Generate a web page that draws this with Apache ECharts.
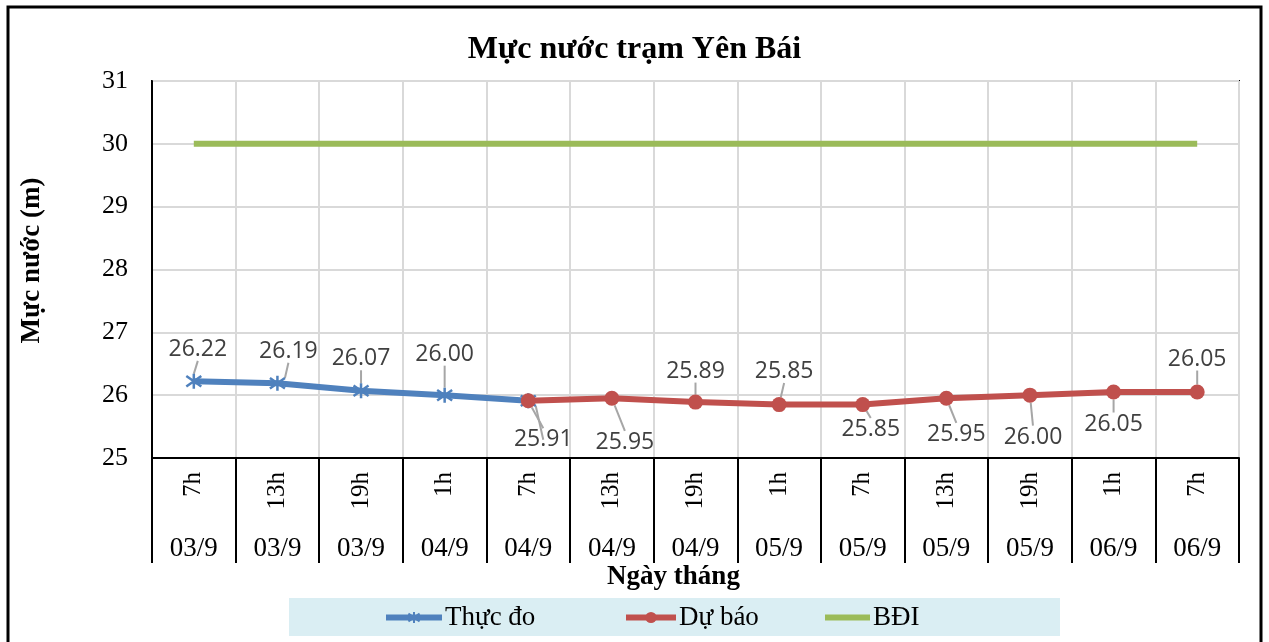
<!DOCTYPE html>
<html><head><meta charset="utf-8">
<script src="https://cdn.jsdelivr.net/npm/echarts@6/dist/echarts.min.js"></script>
<style>html,body{margin:0;padding:0;background:#fff}#c{width:1269px;height:642px}</style>
</head><body><div id="c"></div>
<script>
// ---- data ----
const hours = ['7h','13h','19h','1h','7h','13h','19h','1h','7h','13h','19h','1h','7h'];
const dates = ['03/9','03/9','03/9','04/9','04/9','04/9','04/9','05/9','05/9','05/9','05/9','06/9','06/9'];
const thucDo = [26.22, 26.19, 26.07, 26.00, 25.91, null, null, null, null, null, null, null, null];
const duBao  = [null, null, null, null, 25.91, 25.95, 25.89, 25.85, 25.85, 25.95, 26.00, 26.05, 26.05];
const bdi    = [30, 30, 30, 30, 30, 30, 30, 30, 30, 30, 30, 30, 30];
const yMin = 25, yMax = 31, yStep = 1;

// ---- layout of data labels (pixel shift from point) ----
const labelShift = [[4,-32],[11,-32],[0,-32],[0,-41],[15,39],[13,44],[0,-31],[5,-33],[8,25],[10,36],[3,42],[0,32],[0,-33]];

const SERIF = '"Liberation Serif","Times New Roman",serif';
const SANS = '"Open Sans","Noto Sans",sans-serif';
const BLUE = '#4F81BD', RED = '#C0504D', GREEN = '#9BBB59';

const chart = echarts.init(document.getElementById('c'));

function labelCfg(showIdx) {
  return {
    show: true,
    position: 'inside',
    fontFamily: SANS, fontSize: 23, color: '#404040',
    formatter: p => (showIdx(p.dataIndex) && p.value != null) ? p.value.toFixed(2) : ''
  };
}
function layoutFn(p) {
  const s = labelShift[p.dataIndex];
  return { dx: s[0], dy: s[1] };
}
function legendAt(name, left, w, extra) {
  return Object.assign({
    left: left, top: 604, padding: 0, itemWidth: w, itemHeight: 14, itemGap: 0,
    textStyle: { fontFamily: SERIF, fontSize: 27, color: '#000', padding: [0, 0, 0, -2] },
    lineStyle: { width: 6 },
    data: [name]
  }, extra || {});
}

chart.setOption({
  animation: false,
  title: {
    text: 'Mực nước trạm Yên Bái', left: 'center', top: 29,
    textStyle: { fontFamily: SERIF, fontWeight: 'bold', fontSize: 32, color: '#000' }
  },
  grid: { left: 152, right: 30, top: 81, bottom: 184, show: true, borderColor: '#000', borderWidth: 2, containLabel: false },
  legend: [
    legendAt('Thực đo', 383, 56),
    legendAt('Dự báo', 623, 50),
    legendAt('BĐI', 822, 45, { data: [{ name: 'BĐI', itemStyle: { opacity: 0 } }] })
  ],
  graphic: [
    { type: 'rect', z: -10, shape: { x: 289, y: 598, width: 771, height: 38 }, style: { fill: '#DAEEF3' } },
    { type: 'rect', z: 100, shape: { x: 8, y: 7, width: 1253, height: 660 }, style: { fill: 'none', stroke: '#000', lineWidth: 3 } }
  ],
  xAxis: [
    {
      type: 'category', data: hours, boundaryGap: true, position: 'bottom',
      name: 'Ngày tháng', nameLocation: 'middle', nameGap: 106,
      nameTextStyle: { fontFamily: SERIF, fontWeight: 'bold', fontSize: 27, color: '#000', padding: [0, 44, 0, 0] },
      axisLine: { lineStyle: { color: '#000', width: 2 } },
      axisTick: { show: true, length: 105, alignWithLabel: false, lineStyle: { color: '#000', width: 2 } },
      axisLabel: { interval: 0, rotate: 90, margin: 14, fontFamily: SERIF, fontSize: 25, color: '#000' },
      splitLine: { show: true, interval: 0, lineStyle: { color: '#D9D9D9', width: 2 } }
    },
    {
      type: 'category', data: dates, boundaryGap: true, position: 'bottom', offset: 0,
      axisLine: { show: false }, axisTick: { show: false }, splitLine: { show: false },
      axisLabel: { interval: 0, margin: 77, fontFamily: SERIF, fontSize: 27, color: '#000' }
    }
  ],
  yAxis: {
    type: 'value', min: yMin, max: yMax, interval: yStep,
    name: 'Mực nước (m)', nameLocation: 'middle', nameGap: 106, nameRotate: 90,
    nameTextStyle: { fontFamily: SERIF, fontWeight: 'bold', fontSize: 27, color: '#000', padding: [0, 0, 0, 18] },
    axisLine: { show: true, lineStyle: { color: '#000', width: 2 } },
    axisTick: { show: false },
    axisLabel: { margin: 24, fontFamily: SERIF, fontSize: 26, color: '#000' },
    splitLine: { lineStyle: { color: '#D9D9D9', width: 2 } }
  },
  series: [
    {
      name: 'BĐI', type: 'line', data: bdi, symbol: 'none',
      lineStyle: { color: GREEN, width: 6 }, itemStyle: { color: GREEN }, z: 2
    },
    {
      name: 'Thực đo', type: 'line', data: thucDo,
      symbol: 'path://M5,0 L5,10 M0,1.5 L10,8.5 M10,1.5 L0,8.5', symbolSize: 15,
      lineStyle: { color: BLUE, width: 6 },
      itemStyle: { color: BLUE, borderColor: BLUE, borderWidth: 2.5 },
      label: labelCfg(i => i < 4),
      labelLayout: layoutFn,
      labelLine: { show: true, lineStyle: { color: '#A6A6A6', width: 2 } },
      z: 3
    },
    {
      name: 'Dự báo', type: 'line', data: duBao,
      symbol: 'circle', symbolSize: 15,
      lineStyle: { color: RED, width: 6 },
      itemStyle: { color: RED },
      label: labelCfg(i => i >= 4),
      labelLayout: layoutFn,
      labelLine: { show: true, lineStyle: { color: '#A6A6A6', width: 2 } },
      z: 4
    }
  ]
});
</script></body></html>
